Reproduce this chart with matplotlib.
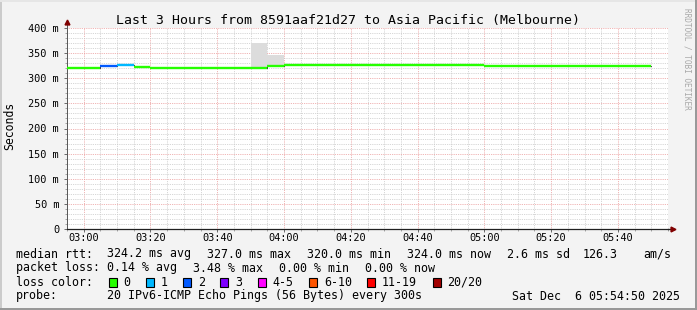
import matplotlib
matplotlib.use("Agg")
import matplotlib.pyplot as plt
import matplotlib.dates as mdates
from matplotlib.patches import Rectangle
from datetime import datetime, timedelta

W, H = 697, 310

# 5 minute bins starting 02:55
start = datetime(2025, 12, 6, 2, 55)
step = timedelta(minutes=5)

# median rtt per bin (ms)
median = [320, 320, 324, 327, 323, 320, 320, 320, 320, 320, 320, 320, 325,
          327, 327, 327, 327, 327, 327, 327, 327, 327, 327, 327, 327,
          324, 324, 324, 324, 324, 324, 324, 324, 324, 324]
# lost pings (of 20) per bin
loss = [0, 0, 2, 1, 0, 0, 0, 0, 0, 0, 0, 0, 0,
        0, 0, 0, 0, 0, 0, 0, 0, 0, 0, 0, 0,
        0, 0, 0, 0, 0, 0, 0, 0, 0, 0]
# smoke range (ms) per bin
smoke_lo = [320, 320, 324, 327, 323, 320, 320, 320, 320, 320, 320, 318, 322,
            327, 327, 327, 327, 327, 327, 327, 327, 327, 327, 327, 327,
            324, 324, 324, 324, 324, 324, 324, 324, 324, 324]
smoke_hi = [320, 320, 324, 327, 323, 320, 323, 320, 320, 320, 320, 371, 346,
            327, 327, 327, 327, 327, 327, 327, 327, 327, 327, 327, 327,
            324, 324, 324, 324, 324, 324, 324, 324, 324, 324]

loss_labels = ["0", "1", "2", "3", "4-5", "6-10", "11-19", "20/20"]
loss_colors = ["#26ff00", "#00b8ff", "#0059ff", "#7e00ff", "#ff00ff",
               "#ff5500", "#ff0000", "#a10000"]
loss_upper = [0, 1, 2, 3, 5, 10, 19, 20]

yticks = [0, 50, 100, 150, 200, 250, 300, 350, 400]

legend_rows = [
    [(16, "median rtt:"), (107, "324.2 ms avg"), (207, "327.0 ms max"),
     (307, "320.0 ms min"), (407, "324.0 ms now"), (507, "2.6 ms sd"),
     (583, "126.3"), (643, "am/s")],
    [(16, "packet loss:"), (107, "0.14 % avg"), (193, "3.48 % max"),
     (279, "0.00 % min"), (365, "0.00 % now")],
    [(16, "loss color:")],
    [(16, "probe:"), (107, "20 IPv6-ICMP Echo Pings (56 Bytes) every 300s")],
]


def loss_color(n):
    for up, c in zip(loss_upper, loss_colors):
        if n <= up:
            return c
    return loss_colors[-1]


def fx(x):
    return x / W


def fy(y):
    return 1 - y / H


plt.rcParams['font.family'] = 'DejaVu Sans Mono'

fig = plt.figure(figsize=(W / 100, H / 100), dpi=100, facecolor="#f3f3f3")
ax = fig.add_axes([fx(67), fy(229), (668 - 67) / W, (229 - 28) / H])
ax.set_facecolor("white")

edges = [start + step * i for i in range(len(median) + 1)]

# smoke
ax.fill_between(edges, smoke_lo + [smoke_lo[-1]], smoke_hi + [smoke_hi[-1]],
                step="post", color="#dcdcdc", lw=0, zorder=2)
# median outline and loss-coloured median
ax.step(edges, median + [median[-1]], where="post", color="#202020", lw=0.6, zorder=3)
ax.hlines(median, edges[:-1], edges[1:], colors=[loss_color(n) for n in loss],
          lw=1.7, zorder=4)

ax.set_xlim(start, start + timedelta(hours=3))
ax.set_ylim(0, 400)

ax.xaxis.set_major_locator(mdates.MinuteLocator(byminute=[0, 20, 40]))
ax.xaxis.set_minor_locator(mdates.MinuteLocator(byminute=range(0, 60, 5)))
ax.xaxis.set_major_formatter(mdates.DateFormatter("%H:%M"))
ax.set_yticks(yticks)
ax.set_yticks(range(0, 401, 10), minor=True)
ax.set_yticklabels(["0" if v == 0 else f"{v} m" for v in yticks])

ax.grid(which="minor", color="#c8c8c8", lw=0.6, ls=(0, (1, 1.2)))
ax.grid(which="major", color="#eb9a9a", lw=0.6, ls=(0, (1, 1.2)))
ax.set_axisbelow(True)

ax.tick_params(which="major", length=2.5, width=0.6, color="#555555",
               labelsize=7.4, pad=0.6)
ax.tick_params(axis="y", which="major", pad=3.2)
ax.tick_params(which="minor", length=1.5, width=0.5, color="#888888")

for s in ("top", "right"):
    ax.spines[s].set_visible(False)
ax.spines["left"].set_color("#555555")
ax.spines["left"].set_linewidth(0.7)
ax.spines["bottom"].set_color("#202020")
ax.spines["bottom"].set_linewidth(0.9)

# axis arrows
ax.plot([1, 1.007], [0, 0], transform=ax.transAxes, color="#202020", lw=0.9, clip_on=False)
ax.plot([1.008], [0], transform=ax.transAxes, marker=">", ms=3.5, color="#800000",
        clip_on=False)
ax.plot([0, 0], [1, 1.03], transform=ax.transAxes, color="#555555", lw=0.7, clip_on=False)
ax.plot([0], [1.03], transform=ax.transAxes, marker="^", ms=3.5, color="#800000",
        clip_on=False)

fig.text(fx(348), fy(24), "Last 3 Hours from 8591aaf21d27 to Asia Pacific (Melbourne)",
         ha="center", va="baseline", fontsize=9.5)
fig.text(fx(10), fy(126), "Seconds", rotation=90, ha="center", va="center", fontsize=8.3)
fig.text(fx(687), fy(59), "RRDTOOL / TOBI OETIKER", rotation=270, ha="center",
         va="center", fontsize=5.6, color="#a8a8a8")

baselines = [257.5, 271.5, 285.5, 299.5]
for row, base in zip(legend_rows, baselines):
    for x, s in row:
        fig.text(fx(x), fy(base), s, ha="left", va="baseline", fontsize=8.4)

fig.text(fx(680), fy(299.5), "Sat Dec  6 05:54:50 2025", ha="right", va="baseline",
         fontsize=8.4)

# loss colour boxes
tx = 123.3
for lab, col in zip(loss_labels, loss_colors):
    fig.add_artist(Rectangle((fx(tx - 14.8), fy(286.5)), 8 / W, 8.5 / H,
                             transform=fig.transFigure,
                             facecolor=col, edgecolor="black", lw=0.8))
    fig.text(fx(tx), fy(baselines[2]), lab, ha="left", va="baseline", fontsize=8.4)
    tx += 7 * len(lab) + 30.3

# 3d frame
fig.add_artist(Rectangle((0, 0), 2 / W, 1, transform=fig.transFigure, color="#cbcbcb", lw=0))
fig.add_artist(Rectangle((0, 1 - 2 / H), 1, 2 / H, transform=fig.transFigure, color="#e6e6e6", lw=0))
fig.add_artist(Rectangle((1 - 2 / W, 0), 2 / W, 1, transform=fig.transFigure, color="#999999", lw=0))
fig.add_artist(Rectangle((0, 0), 1, 2 / H, transform=fig.transFigure, color="#999999", lw=0))

fig.savefig("out.png", dpi=100, facecolor=fig.get_facecolor())
